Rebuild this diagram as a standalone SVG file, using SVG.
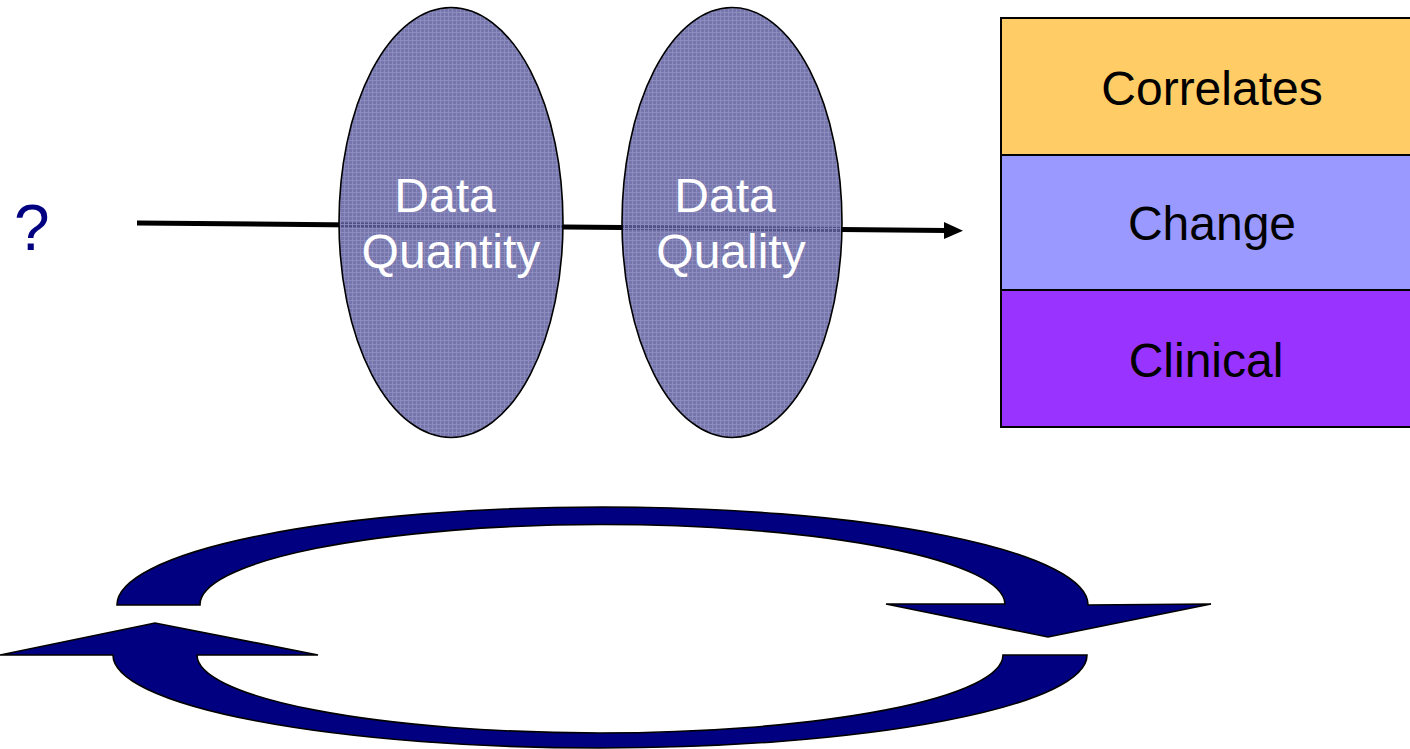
<svg xmlns="http://www.w3.org/2000/svg" width="1410" height="749" viewBox="0 0 1410 749">
<style>
.lbl{font-family:"Liberation Sans",Arial,sans-serif;font-size:48px;text-anchor:middle}
.w{fill:#ffffff}
.k{fill:#000000}
.ell{fill:url(#grid);stroke:#000;stroke-width:1.6}
.ring{fill:#000080;stroke:#000;stroke-width:1.6;stroke-linejoin:miter}
.row{stroke:#000;stroke-width:2}
</style>
<defs>
<pattern id="grid" width="4" height="4" patternUnits="userSpaceOnUse">
<rect width="4" height="4" fill="#5e5e9e" fill-opacity="0.85"/>
<path d="M0 0.5H4M0.5 0V4" stroke="#8e8ec0" stroke-width="1" stroke-opacity="0.85"/>
</pattern>
</defs>
<g id="connectors">
<line x1="137" y1="223" x2="946" y2="230.5" stroke="#000" stroke-width="5"/>
<polygon points="944,222 963,230.7 944,239" fill="#000"/>
</g>
<g id="question">
<text x="14" y="250" font-family="Liberation Sans, Arial, sans-serif" font-size="64" fill="#000080">?</text>
</g>
<g id="data-quantity">
<ellipse class="ell" cx="451" cy="222.5" rx="112" ry="215"/>
<text class="lbl w" x="445" y="212">Data</text>
<text class="lbl w" x="451" y="268">Quantity</text>
</g>
<g id="data-quality">
<ellipse class="ell" cx="732" cy="222.5" rx="110" ry="215"/>
<text class="lbl w" x="725" y="212">Data</text>
<text class="lbl w" x="731" y="268">Quality</text>
</g>
<g id="correlates">
<rect class="row" x="1001" y="18" width="420" height="137" fill="#FFCC66"/>
<text class="lbl k" x="1212" y="105">Correlates</text>
</g>
<g id="change">
<rect class="row" x="1001" y="155" width="420" height="135" fill="#9999FF"/>
<text class="lbl k" x="1212" y="240">Change</text>
</g>
<g id="clinical">
<rect class="row" x="1001" y="290" width="420" height="137" fill="#9933FF"/>
<text class="lbl k" x="1206" y="377">Clinical</text>
</g>
<g id="cycle">
<path class="ring" d="M117 605 A485.5 98 0 0 1 1088 605 L1211 604 L1048 637 L886 604 L1005 604 A402.5 80 0 0 0 200 605 Z"/>
<path class="ring" d="M1087 655 A487 93 0 0 1 113 655 L0 655 L155 623 L318 655 L197 655 A403 78 0 0 0 1003 655 Z"/>
</g>
</svg>
